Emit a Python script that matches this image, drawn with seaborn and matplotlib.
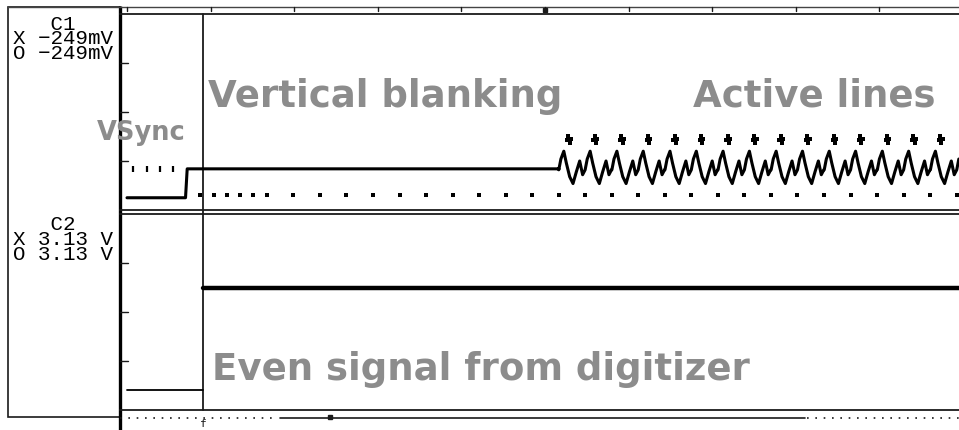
import matplotlib
matplotlib.use("Agg")
import matplotlib.pyplot as plt
import seaborn as sns
import pandas as pd
from matplotlib.patches import Rectangle
from matplotlib.transforms import blended_transform_factory

# ---------------- data ----------------
time_per_div_us = 200
time_divs = list(range(10))            # graticule divisions along the top
c1_div_mv = [-100, 0, 100]             # C1 vertical division marks (100 mV/div)
c2_div_v = [2, 4, 6]                   # C2 vertical division marks (2 V/div)

c1_vsync_level_mv = -175
c1_blank_level_mv = -116
c1_sync_tip_mv = -170
c1_vsync_end_us = 140
c1_serration_us = [14, 47, 79, 110]
c1_equalizing_us = [175, 207, 239, 270, 302, 334]
c1_hsync_us = [398, 461, 525, 588, 652, 715, 779, 842, 906, 969, 1033, 1096,
               1160, 1223, 1287, 1350, 1414, 1477, 1541, 1604, 1668, 1731,
               1795, 1858, 1922, 1985]
c1_active_start_us = 1033
c1_end_us = 1990
# shape of one active video line after its sync pulse
c1_line_offset_us = [0, 5, 12, 18, 26, 34, 42, 50, 57, 63]
c1_line_mv = [-118, -96, -80, -104, -132, -146, -122, -100, -128, -118]
c1_peak_offset_us = [20, 23, 26, 29]
c1_peak_mv = [-58, -48, -64, -55]

c2_low_v = 0.8
c2_high_v = 5.0
c2_trigger_us = 182
c2_end_us = 1990

cursor_us = 182

c1_readout = ["   C1", "X \u2212249mV", "O \u2212249mV"]
c2_readout = ["   C2", "X 3.13 V", "O 3.13 V"]
note_vsync = "VSync"
note_vblank = "Vertical blanking"
note_active = "Active lines"
note_even = "Even signal from digitizer"

# ---------------- figure ----------------
sns.set_style("white")
W, H = 959, 431
fig = plt.figure(figsize=(W / 100, H / 100), dpi=100)
fig.patch.set_facecolor("white")

frame = fig.add_axes([0, 0, 1, 1])
frame.set_xlim(0, W)
frame.set_ylim(H, 0)
frame.axis("off")

x0_px, x1_px = 120, 959
t_min = -16.75
t_max = t_min + (x1_px - x0_px) / 0.418
ax1 = fig.add_axes([x0_px / W, 1 - 211 / H, (x1_px - x0_px) / W, 196 / H])
ax2 = fig.add_axes([x0_px / W, 1 - 411 / H, (x1_px - x0_px) / W, 196 / H])

dark = "#1a1a1a"
# left readout box and thick left border
frame.add_patch(Rectangle((7.5, 7.5), 112.5, 411, fill=False, lw=1.2, ec=dark))
frame.plot([120, 120], [7, 431], color="black", lw=2.4, solid_capstyle="butt")
# top double line
frame.plot([7.5, W], [7.5, 7.5], color="#444444", lw=1.0)
frame.plot([120, W], [15, 15], color=dark, lw=1.3)
# channel separator and bottom lines
frame.plot([120, W], [211, 211], color=dark, lw=1.3)
frame.plot([120, W], [215, 215], color=dark, lw=1.3)
frame.plot([120, W], [411, 411], color=dark, lw=1.3)
frame.plot([120, 278], [419, 419], color=dark, lw=1.2, linestyle=(0, (1, 4)))
frame.plot([280, 805], [419, 419], color=dark, lw=1.2)
frame.plot([807, W], [419, 419], color=dark, lw=1.2, linestyle=(0, (1, 4)))
frame.plot([330], [418.5], marker="s", ms=2.5, color=dark)

bt = blended_transform_factory(ax1.transData, frame.transData)

# ---------------- C1 trace ----------------
t = [0, c1_vsync_end_us, c1_vsync_end_us + 4, c1_active_start_us]
v = [c1_vsync_level_mv, c1_vsync_level_mv, c1_blank_level_mv, c1_blank_level_mv]
peaks_t, peaks_v = [], []
for ts in c1_hsync_us:
    if ts < c1_active_start_us:
        continue
    for off, mv in zip(c1_line_offset_us, c1_line_mv):
        if ts + off <= c1_end_us:
            t.append(ts + off)
            v.append(mv)
    for off, mv in zip(c1_peak_offset_us, c1_peak_mv):
        if ts + off <= c1_end_us:
            peaks_t.append(ts + off)
            peaks_v.append(mv)
c1 = pd.DataFrame({"t": t, "mv": v})
sns.lineplot(data=c1, x="t", y="mv", ax=ax1, color="black", lw=2.2,
             estimator=None, sort=False, legend=False)

sync_df = pd.DataFrame({"t": c1_equalizing_us + c1_hsync_us,
                        "mv": [c1_sync_tip_mv] * (len(c1_equalizing_us) + len(c1_hsync_us))})
sns.scatterplot(data=sync_df, x="t", y="mv", ax=ax1, color="black", marker="s",
                s=5, linewidth=0, legend=False)
serr_df = pd.DataFrame({"t": c1_serration_us, "mv": [c1_blank_level_mv] * len(c1_serration_us)})
sns.scatterplot(data=serr_df, x="t", y="mv", ax=ax1, color="black", marker="|",
                s=18, linewidth=1.6, legend=False)
peak_df = pd.DataFrame({"t": peaks_t, "mv": peaks_v})
sns.scatterplot(data=peak_df, x="t", y="mv", ax=ax1, color="black", marker="s",
                s=6, linewidth=0, legend=False)

# ---------------- C2 trace ----------------
c2_low = pd.DataFrame({"t": [0, c2_trigger_us], "v": [c2_low_v, c2_low_v]})
c2_high = pd.DataFrame({"t": [c2_trigger_us, c2_end_us], "v": [c2_high_v, c2_high_v]})
sns.lineplot(data=c2_low, x="t", y="v", ax=ax2, color="black", lw=1.3,
             estimator=None, sort=False, legend=False)
sns.lineplot(data=c2_high, x="t", y="v", ax=ax2, color="black", lw=3.2,
             estimator=None, sort=False, legend=False)
for ax in (ax1, ax2):
    ax.set_xlim(t_min, t_max)
    ax.axis("off")
    ax.patch.set_alpha(0)
ax1.set_ylim(-200, 200)
ax2.set_ylim(0, 8)

# top graticule ticks (time divisions)
for d in time_divs:
    frame.plot([d * time_per_div_us] * 2, [7.5, 12], color=dark, lw=1.0, transform=bt)
frame.plot([5 * time_per_div_us], [10.5], marker="s", ms=3, color=dark, transform=bt)

# left vertical division ticks
for ax, vals in ((ax1, c1_div_mv), (ax2, c2_div_v)):
    bl = blended_transform_factory(frame.transData, ax.transData)
    for val in vals:
        frame.plot([120, 128], [val, val], color=dark, lw=1.0, transform=bl)

# cursor line
frame.plot([cursor_us, cursor_us], [15, 411], color=dark, lw=1.3, transform=bt)
frame.text(cursor_us, 427.5, "f", transform=bt, ha="center", va="baseline",
           fontsize=8, family=["DejaVu Sans Mono"], color=dark)

# ---------------- readout text ----------------
mono = dict(family=["Liberation Mono", "DejaVu Sans Mono"], fontsize=15.0,
            color="black", ha="left", va="top", linespacing=0.73)
frame.text(13, 14.5, "\n".join(c1_readout), **mono)
frame.text(13, 215, "\n".join(c2_readout), **mono)

# ---------------- annotations ----------------
grey = "#8c8c8c"
big = dict(family=["DejaVu Sans"], fontweight="bold", color=grey, va="baseline", ha="left")
frame.text(97, 140, note_vsync, fontsize=18.5, **big)
frame.text(208, 107, note_vblank, fontsize=26.7, **big)
frame.text(693, 107, note_active, fontsize=26.7, **big)
frame.text(212, 380, note_even, fontsize=26.7, **big)

fig.savefig("out.png", dpi=100, facecolor="white")
